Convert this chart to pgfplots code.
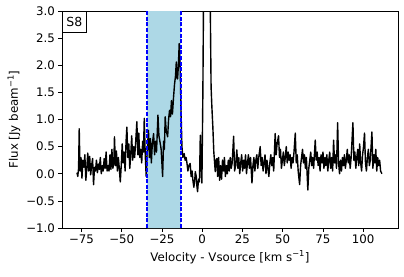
\documentclass[border=0pt]{standalone}
\usepackage{fontspec}
\setmainfont{DejaVu Sans}
\usepackage{pgfplots}
\pgfplotsset{compat=1.18}
\definecolor{lblue}{HTML}{ADD8E6}
\definecolor{dblue}{HTML}{0000FF}
\begin{document}
\begin{tikzpicture}
\useasboundingbox (-62pt,-48pt) rectangle (342pt,228pt);
\begin{axis}[
  at={(0,0)}, anchor=south west,
  width=336pt, height=217pt, scale only axis,
  xmin=-87.1, xmax=121.6, ymin=-1, ymax=3,
  xtick={-75,-50,-25,0,25,50,75,100},
  xticklabels={−75,−50,−25,0,25,50,75,100},
  ytick={-1,-0.5,0,0.5,1,1.5,2,2.5,3},
  yticklabels={−1.0,−0.5,0.0,0.5,1.0,1.5,2.0,2.5,3.0},
  tick align=outside, tick pos=left, major tick length=3.5pt,
  tick style={line width=0.75pt, black},
  axis line style={line width=0.75pt},
  ticklabel style={font=\fontsize{11.8}{13}\selectfont},
  label style={font=\fontsize{11.8}{13}\selectfont},
  xlabel={Velocity - Vsource [km s\textsuperscript{−1}]},
  ylabel={Flux [Jy beam\textsuperscript{−1}]},
  xlabel style={at={(axis description cs:0.5,-0.134)}, anchor=center},
  ylabel style={at={(axis description cs:-0.143,0.5)}, anchor=center},
]
\addplot[draw=none, fill=lblue] coordinates {(-34.2,-1) (-34.2,3) (-13.3,3) (-13.3,-1) (-34.2,-1)};
\addplot[black, line width=1.4pt, line join=round] coordinates {
(-77.8,0.02) (-77.3,-0.05) (-76.8,0.10) (-76.4,0.83) (-75.9,0.05) (-75.3,0.30)
(-74.7,-0.08) (-74.1,0.25) (-73.5,0.12) (-72.9,0.35) (-72.3,-0.12) (-71.7,0.10)
(-71.1,0.38) (-70.5,0.05) (-69.9,0.32) (-69.3,-0.02) (-68.7,0.15) (-68.1,0.28)
(-67.5,-0.20) (-66.9,0.12) (-66.3,0.05) (-65.7,0.25) (-65.1,0.02) (-64.5,0.18)
(-63.9,0.08) (-63.3,0.30) (-62.7,0.00) (-62.1,0.15) (-61.5,0.05) (-60.9,0.28)
(-60.3,0.10) (-59.7,0.40) (-59.1,0.05) (-58.5,0.15) (-57.9,0.05) (-57.3,0.35)
(-56.7,0.08) (-56.1,0.45) (-55.5,0.10) (-54.9,0.20) (-54.5,0.68) (-53.9,0.15)
(-53.3,0.42) (-52.7,0.05) (-52.1,0.30) (-51.5,0.10) (-50.9,-0.15) (-50.3,0.15)
(-49.7,0.55) (-49.1,0.20) (-48.5,0.40) (-47.9,0.05) (-47.3,0.60) (-46.8,0.86)
(-46.2,0.30) (-45.6,0.55) (-45.0,0.10) (-44.4,0.35) (-43.8,0.70) (-43.2,0.25)
(-42.6,0.50) (-42.0,0.30) (-41.4,0.55) (-40.6,0.96) (-40.0,0.35) (-39.4,0.75)
(-38.8,0.30) (-38.2,0.45) (-37.6,0.20) (-37.0,0.60) (-36.5,0.40) (-36.0,1.02)
(-35.4,0.35) (-34.8,-0.05) (-34.2,0.40) (-33.4,0.80) (-32.8,0.30) (-32.2,0.65)
(-31.6,0.20) (-31.0,0.55) (-30.2,0.74) (-29.6,0.35) (-29.0,0.60) (-28.4,0.40)
(-27.5,1.08) (-26.9,0.70) (-26.1,0.56) (-25.5,0.45) (-24.6,-0.05) (-24.0,0.60)
(-23.5,0.45) (-23.0,1.05) (-22.4,0.80) (-21.5,0.68) (-20.9,1.00) (-20.3,1.17)
(-19.7,1.05) (-19.1,1.35) (-18.5,1.10) (-17.8,1.42) (-17.2,1.65) (-16.6,1.80)
(-16.1,2.06) (-15.6,1.75) (-15.3,1.75) (-14.8,2.00) (-14.3,2.40) (-13.7,1.97)
(-13.2,1.20) (-12.6,0.50) (-12.0,0.30) (-11.2,0.37) (-10.6,0.25) (-10.0,0.30)
(-9.5,0.20) (-8.9,0.05) (-8.3,0.15) (-7.5,0.19) (-6.9,-0.05) (-6.3,0.05)
(-5.8,-0.12) (-5.2,-0.25) (-4.6,-0.10) (-4.3,0.04) (-3.7,-0.05) (-3.4,-0.20)
(-2.9,-0.33) (-2.3,-0.10) (-1.7,-0.15) (-1.2,0.71) (-0.7,0.20) (-0.2,-0.17)
(0.4,1.50) (0.8,3.20) (1.4,5.0) (2.0,6.0) (2.6,6.5) (3.2,6.3) (3.8,5.5)
(4.4,4.3) (5.0,3.1) (5.5,1.60) (6.0,1.23) (6.6,0.86) (7.2,0.40) (7.7,0.20)
(8.1,0.04) (8.6,0.25) (9.1,0.28) (9.6,-0.05) (10.2,0.30) (10.8,-0.12)
(11.4,0.15) (12.0,-0.10) (12.6,0.25) (13.2,0.05) (13.8,0.30) (14.4,-0.05)
(15.0,0.15) (15.6,0.00) (16.2,0.25) (16.8,0.05) (17.4,0.30) (18.0,0.10)
(18.6,0.20) (19.5,0.69) (20.1,0.05) (20.7,0.15) (21.5,0.44) (22.1,0.10)
(22.7,0.30) (23.3,0.00) (23.9,0.20) (24.5,0.35) (25.1,0.05) (25.7,0.25)
(26.3,0.10) (26.9,0.35) (27.5,0.00) (28.1,0.20) (28.7,0.35) (29.3,0.10)
(30.0,0.30) (30.9,-0.17) (31.5,0.15) (32.1,0.30) (32.7,0.05) (33.3,0.25)
(33.9,0.35) (34.5,0.10) (35.1,0.30) (36.0,0.50) (36.6,0.15) (37.2,0.30)
(37.8,0.05) (38.4,0.20) (39.0,0.35) (39.6,0.00) (40.2,0.25) (40.8,0.10)
(41.4,-0.05) (42.0,0.20) (42.6,0.35) (43.2,0.15) (43.8,0.30) (44.4,0.05)
(45.3,0.74) (45.9,0.35) (46.5,0.55) (47.4,0.70) (48.0,0.30) (48.6,0.45)
(49.2,0.10) (49.8,0.25) (50.4,0.40) (51.0,0.15) (51.6,0.30) (52.2,0.50)
(52.8,0.20) (53.4,0.40) (54.0,0.25) (54.6,0.35) (55.2,0.10) (55.8,0.30)
(56.4,0.20) (57.0,0.40) (57.8,0.75) (58.4,0.20) (59.0,0.35) (59.6,0.05)
(60.5,-0.20) (61.1,0.15) (61.7,0.30) (62.3,0.45) (62.9,0.20) (63.5,0.35)
(64.1,0.10) (64.7,0.30) (65.6,-0.30) (66.2,0.10) (66.8,0.25) (67.4,0.40)
(68.0,0.15) (68.6,0.30) (69.2,0.10) (70.2,0.62) (70.8,0.25) (71.4,0.40)
(72.0,0.15) (72.6,0.30) (73.2,0.05) (73.8,0.35) (74.4,0.20) (75.0,0.40)
(75.6,0.10) (76.2,0.30) (76.8,0.15) (77.4,0.35) (78.0,0.05) (78.6,0.25)
(79.2,0.40) (79.8,0.10) (80.4,0.30) (81.0,0.05) (81.6,0.62) (82.2,0.20)
(82.8,0.35) (83.4,0.10) (84.1,0.94) (84.7,0.20) (85.3,0.00) (85.9,0.25)
(86.5,0.05) (87.1,0.30) (87.7,0.15) (88.3,0.35) (88.9,0.10) (89.5,0.25)
(90.1,0.45) (90.7,0.20) (91.3,0.35) (91.9,0.10) (92.5,0.30) (93.6,0.94)
(94.2,0.25) (94.8,0.40) (95.4,0.10) (96.0,0.30) (96.6,0.45) (97.2,0.15)
(97.8,0.55) (98.4,0.20) (99.0,0.05) (99.6,0.35) (100.2,0.50) (100.8,0.75)
(101.4,0.20) (102.0,0.05) (102.6,0.30) (103.2,0.45) (103.8,0.15) (104.4,0.25)
(105.4,0.77) (106.0,0.10) (106.6,0.35) (107.2,0.20) (107.8,0.45) (108.4,0.05)
(109.0,0.30) (109.6,0.15) (110.2,0.25) (110.8,0.05) (111.6,0.00)
};
\addplot[dblue, line width=1.5pt, dash pattern=on 4pt off 1.6pt] coordinates {(-34.2,-1) (-34.2,3)};
\addplot[dblue, line width=1.5pt, dash pattern=on 4pt off 1.6pt] coordinates {(-13.3,-1) (-13.3,3)};
\node[draw=black, line width=0.75pt, fill=white, anchor=north west, minimum width=24pt, minimum height=20.6pt, inner sep=0pt, font=\fontsize{12.5}{14}\selectfont] at (rel axis cs:0,1) {S8};
\end{axis}
\end{tikzpicture}
\end{document}
